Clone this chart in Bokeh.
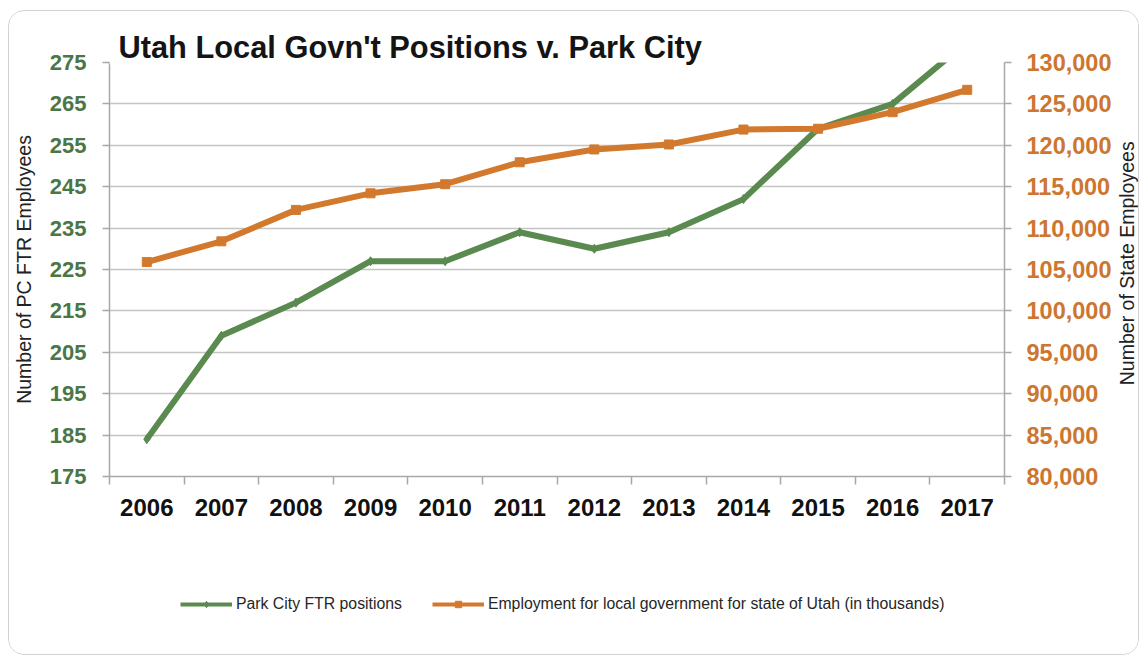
import math
from bokeh.plotting import figure
from bokeh.layouts import column, row
from bokeh.models import (Range1d, LinearAxis, FixedTicker, NumeralTickFormatter,
                          Legend, LegendItem, BoxAnnotation, Label, CustomJSTickFormatter)
from bokeh.embed import file_html
from bokeh.resources import INLINE

# ---- data ----
years = [2006, 2007, 2008, 2009, 2010, 2011, 2012, 2013, 2014, 2015, 2016, 2017]
park_city_ftr = [184, 209, 217, 227, 227, 234, 230, 234, 242, 259, 265, 280]
utah_local_gov = [105900, 108400, 112200, 114200, 115300, 117950, 119500, 120100,
                  121900, 122000, 124000, 126700]
left_ticks = [175, 185, 195, 205, 215, 225, 235, 245, 255, 265, 275]
right_ticks = [80000, 85000, 90000, 95000, 100000, 105000, 110000, 115000,
               120000, 125000, 130000]
title_text = "Utah Local Govn't Positions v. Park City"
left_label = "Number of PC FTR Employees"
right_label = "Number of State Employees"
series_names = ["Park City FTR positions",
                "Employment for local government for state of Utah (in thousands)"]

GREEN = "#5a8a4f"
ORANGE = "#d2792e"
GREEN_TXT = "#4b7645"
ORANGE_TXT = "#cd7630"
GRID = "#c4c4c4"
AXIS = "#a8a8a8"
FONT = "Liberation Sans"

p = figure(width=1105, height=560, output_backend="svg", toolbar_location=None,
           x_range=Range1d(years[0] - 0.5, years[-1] + 0.5),
           y_range=Range1d(left_ticks[0], left_ticks[-1]))
p.min_border_left = 97
p.min_border_right = 106
p.min_border_top = 51
p.min_border_bottom = 95
p.outline_line_color = None
p.background_fill_color = "white"
p.border_fill_color = "white"

p.extra_y_ranges = {"right": Range1d(right_ticks[0], right_ticks[-1])}

# title
p.title.text = title_text
p.title.align = "left"
p.title.offset = 9
p.title.text_font = FONT
p.title.text_font_style = "bold"
p.title.text_font_size = "30.8px"
p.title.text_color = "#141414"
p.title.vertical_align = "bottom"
try:
    p.title.standoff = -5
except Exception:
    p.title.standoff = 0

# grid
p.xgrid.visible = False
p.ygrid.ticker = FixedTicker(ticks=left_ticks)
p.ygrid.grid_line_color = GRID
p.ygrid.grid_line_width = 1.5

# white box behind the title hiding the top gridline
p.add_layout(BoxAnnotation(left=years[0] - 0.5, right=2013.53, bottom=274.5, top=276,
                           fill_color="white", fill_alpha=1.0, line_alpha=0))

# x axis
xa = p.xaxis[0]
xa.ticker = FixedTicker(ticks=years, minor_ticks=[y - 0.5 for y in years] + [years[-1] + 0.5])
xa.formatter = CustomJSTickFormatter(code="return String(tick);")
xa.major_tick_line_color = None
xa.major_tick_out = 0
xa.major_tick_in = 0
xa.minor_tick_line_color = AXIS
xa.minor_tick_line_width = 1.5
xa.minor_tick_out = 8
xa.minor_tick_in = 0
xa.axis_line_color = AXIS
xa.axis_line_width = 1.5
xa.major_label_text_font = FONT
xa.major_label_text_font_style = "bold"
xa.major_label_text_font_size = "24px"
xa.major_label_text_color = "#111111"
xa.major_label_standoff = 14

# left axis
ya = p.yaxis[0]
ya.ticker = FixedTicker(ticks=left_ticks)
ya.axis_line_color = AXIS
ya.axis_line_width = 1.5
ya.major_tick_line_color = AXIS
ya.major_tick_line_width = 1.5
ya.major_tick_out = 7
ya.major_tick_in = 0
ya.minor_tick_line_color = None
ya.major_label_text_font = FONT
ya.major_label_text_font_style = "bold"
ya.major_label_text_font_size = "22px"
ya.major_label_text_color = GREEN_TXT
ya.major_label_standoff = 16
ya.axis_label = left_label
ya.axis_label_text_font = FONT
ya.axis_label_text_font_style = "normal"
ya.axis_label_text_font_size = "19.5px"
ya.axis_label_text_color = "#222222"
ya.axis_label_standoff = 12

# right axis
ra = LinearAxis(y_range_name="right")
ra.ticker = FixedTicker(ticks=right_ticks)
ra.formatter = NumeralTickFormatter(format="0,0")
ra.axis_line_color = AXIS
ra.axis_line_width = 1.5
ra.major_tick_line_color = AXIS
ra.major_tick_line_width = 1.5
ra.major_tick_out = 7
ra.major_tick_in = 0
ra.minor_tick_line_color = None
ra.major_label_text_font = FONT
ra.major_label_text_font_style = "bold"
ra.major_label_text_font_size = "23.5px"
ra.major_label_text_color = ORANGE_TXT
ra.major_label_standoff = 15
p.add_layout(ra, "right")

# series
g_line = p.line(years, park_city_ftr, line_color=GREEN, line_width=6)
g_mark = p.scatter(years, park_city_ftr, marker="diamond", size=9,
                   fill_color=GREEN, line_color=GREEN)
o_line = p.line(years, utah_local_gov, y_range_name="right", line_color=ORANGE, line_width=6)
o_mark = p.scatter(years, utah_local_gov, y_range_name="right", marker="square", size=9,
                   fill_color=ORANGE, line_color=ORANGE)

# narrow strip on the right holding the right axis title (reads bottom to top)
rfig = figure(width=24, height=560, output_backend="svg", toolbar_location=None,
              x_range=Range1d(0, 1), y_range=Range1d(0, 1),
              x_axis_location=None, y_axis_location=None)
rfig.min_border_left = rfig.min_border_right = 0
rfig.min_border_top = 51
rfig.min_border_bottom = 95
rfig.outline_line_color = None
rfig.xgrid.visible = False
rfig.ygrid.visible = False
rfig.border_fill_color = "white"
rfig.add_layout(Label(x=0.5, y=0.515, text=right_label, angle=math.pi / 2,
                      text_align="center", text_baseline="middle",
                      text_font=FONT, text_font_size="19.5px", text_color="#222222"))

# legend strip below the chart
leg = figure(width=1129, height=83, output_backend="svg", toolbar_location=None,
             x_range=Range1d(0, 1), y_range=Range1d(0, 1),
             x_axis_location=None, y_axis_location=None)
leg.min_border_left = leg.min_border_right = leg.min_border_top = leg.min_border_bottom = 0
leg.outline_line_color = None
leg.xgrid.visible = False
leg.ygrid.visible = False
leg.border_fill_color = "white"
# legend renderers reuse the series data; the strip's ranges keep them out of view
lg_line = leg.line(years, park_city_ftr, line_color=GREEN, line_width=4)
lg_mark = leg.scatter(years, park_city_ftr, marker="diamond", size=8,
                      fill_color=GREEN, line_color=GREEN)
lo_line = leg.line(years, utah_local_gov, line_color=ORANGE, line_width=4)
lo_mark = leg.scatter(years, utah_local_gov, marker="square", size=8,
                      fill_color=ORANGE, line_color=ORANGE)

legend = Legend(items=[LegendItem(label=series_names[0], renderers=[lg_line, lg_mark]),
                       LegendItem(label=series_names[1], renderers=[lo_line, lo_mark])],
                location=(171, 41), orientation="horizontal")
legend.glyph_width = 52
legend.glyph_height = 16
legend.label_standoff = 4
legend.spacing = 30
legend.padding = 0
legend.margin = 0
legend.border_line_color = None
legend.background_fill_alpha = 0
legend.label_text_font = FONT
legend.label_text_font_size = "15.8px"
legend.label_text_color = "#262626"
leg.add_layout(legend, "center")

layout = column(row(p, rfig, spacing=0), leg, spacing=0,
                styles={"border": "1px solid #d2d2d2", "border-radius": "16px",
                        "margin-left": "8px", "margin-top": "10px",
                        "overflow": "hidden", "background-color": "white"})

open("out.html", "w").write(file_html(layout, INLINE))
